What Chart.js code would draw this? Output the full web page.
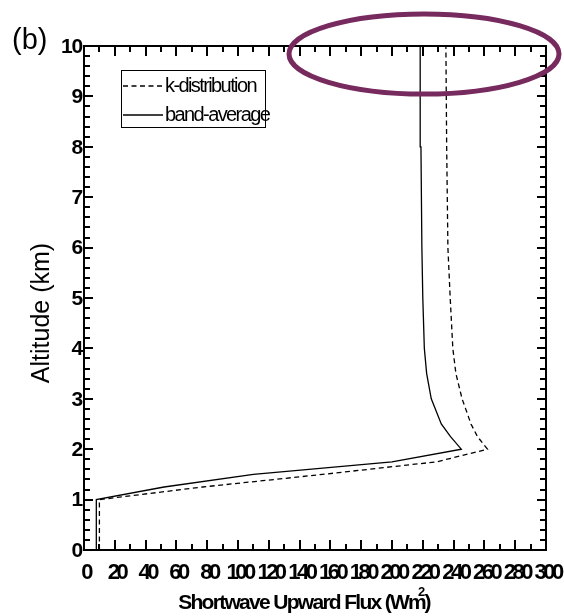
<!DOCTYPE html>
<html>
<head>
<meta charset="utf-8">
<script src="https://cdn.jsdelivr.net/npm/chart.js@4.4.1/dist/chart.umd.min.js"></script>
<style>
  html, body { margin: 0; padding: 0; background: #fff; }
  #wrap { width: 564px; height: 616px; }
</style>
</head>
<body>
<div id="wrap"><canvas id="chart" width="564" height="616"></canvas></div>
<script>
// altitude levels (km) and upward shortwave flux (W m-2)
const altitudeKm    = [0, 1, 1.25, 1.5, 1.75, 2, 2.25, 2.5, 3, 3.5, 4, 5, 6, 8, 10];
const kDistribution = [10, 10, 77, 155, 229, 262, 255.5, 251.3, 245.5, 241.5, 239.5, 237.8, 236.3, 235.5, 235];
const bandAverage   = [8, 8, 52, 110, 200, 245, 238, 232, 225.5, 222.5, 221, 220, 219.4, 218.8, 218.3];
const seriesNames   = ['k-distribution', 'band-average'];
const xTickLabels   = [0, 20, 40, 60, 80, 100, 120, 140, 160, 180, 200, 220, 240, 260, 280, 300];
const yTickLabels   = [0, 1, 2, 3, 4, 5, 6, 7, 8, 9, 10];

const FONT = '"Liberation Sans", Arial, sans-serif';

function toPoints(xs){
    return xs.map((v, i) => ({x: v, y: altitudeKm[i]}));
}

const decorations = {
    id: 'decorations',
    afterDraw(chart){
        const ctx = chart.ctx, a = chart.chartArea;
        const x = chart.scales.x, y = chart.scales.y;
        ctx.save();
        ctx.setLineDash([]);
        ctx.strokeStyle = '#000';
        ctx.fillStyle = '#000';

        // frame
        ctx.lineWidth = 2;
        ctx.strokeRect(a.left, a.top, a.right - a.left, a.bottom - a.top);

        // inward ticks on all four sides
        for(let i = 0; i <= 30; i++){
            const px = Math.round(x.getPixelForValue(i*10));
            const len = i % 2 === 0 ? 10 : 6;
            ctx.fillRect(px - 1, a.bottom - len, 2, len);
            ctx.fillRect(px - 1, a.top, 2, len);
        }
        for(let i = 0; i <= 50; i++){
            const py = Math.round(y.getPixelForValue(i/5));
            const len = i % 5 === 0 ? 9 : 6;
            ctx.fillRect(a.left, py - 1, len, 2);
            ctx.fillRect(a.right - len, py - 1, len, 2);
        }

        // x tick labels
        ctx.font = 'bold 22px ' + FONT;
        ctx.letterSpacing = '-3.5px';
        ctx.textAlign = 'center';
        ctx.textBaseline = 'middle';
        xTickLabels.forEach(v => {
            ctx.fillText(String(v), x.getPixelForValue(v) + 1.7, a.bottom + 23);
        });

        // y tick labels
        ctx.font = 'bold 21px ' + FONT;
        ctx.letterSpacing = '-1.2px';
        ctx.textAlign = 'right';
        yTickLabels.forEach(v => {
            ctx.fillText(String(v), a.left - 2, y.getPixelForValue(v) + 1);
        });

        // y title
        ctx.save();
        ctx.translate(42, (a.top + a.bottom)/2 + 15);
        ctx.rotate(-Math.PI/2);
        ctx.font = '25px ' + FONT;
        ctx.letterSpacing = '0px';
        ctx.textAlign = 'center';
        ctx.fillText('Altitude (km)', 0, 0);
        ctx.restore();

        // x title with superscript
        ctx.font = 'bold 21px ' + FONT;
        ctx.letterSpacing = '-1.7px';
        ctx.textAlign = 'left';
        const t1 = 'Shortwave Upward Flux (Wm', t3 = ')';
        const w1 = ctx.measureText(t1).width, w3 = ctx.measureText(t3).width;
        ctx.font = 'bold 13px ' + FONT;
        const w2 = ctx.measureText('2').width;
        let sx = 305 - (w1 + w2 + w3)/2 + 2;
        ctx.font = 'bold 21px ' + FONT;
        ctx.fillText(t1, sx, 603);
        ctx.font = 'bold 13px ' + FONT;
        ctx.letterSpacing = '0px';
        ctx.fillText('2', sx + w1 - 7, 592);
        ctx.font = 'bold 21px ' + FONT;
        ctx.fillText(t3, sx + w1 + w2 - 6, 603);

        // panel letter
        ctx.font = '29px ' + FONT;
        ctx.letterSpacing = '0px';
        ctx.textAlign = 'left';
        ctx.textBaseline = 'alphabetic';
        ctx.fillText('(b)', 12, 49);

        // legend box
        ctx.lineWidth = 1;
        ctx.strokeRect(121.5, 70.5, 144, 57);
        const ds = chart.data.datasets;
        [86, 115].forEach((ly, i) => {
            ctx.beginPath();
            ctx.lineWidth = 1.3;
            ctx.setLineDash(ds[i].borderDash || []);
            ctx.moveTo(123, ly); ctx.lineTo(163, ly);
            ctx.stroke();
            ctx.setLineDash([]);
            ctx.font = '20px ' + FONT;
            ctx.letterSpacing = '-1.6px';
            ctx.textBaseline = 'middle';
            ctx.fillText(ds[i].label, 165, ly);
        });

        // highlight ellipse
        ctx.beginPath();
        ctx.strokeStyle = '#772a5e';
        ctx.lineWidth = 5;
        ctx.ellipse(424, 54, 135, 40, 0, 0, Math.PI*2);
        ctx.stroke();

        ctx.restore();
    }
};

const ctx = document.getElementById('chart').getContext('2d');
const myChart = new Chart(ctx, {
    type: 'scatter',
    data: {
        datasets: [{
            label: seriesNames[0],
            data: toPoints(kDistribution),
            showLine: true,
            borderColor: '#000',
            borderWidth: 1.3,
            borderDash: [5, 3.5],
            pointRadius: 0,
            fill: false
        }, {
            label: seriesNames[1],
            data: toPoints(bandAverage),
            showLine: true,
            borderColor: '#000',
            borderWidth: 1.3,
            pointRadius: 0,
            fill: false
        }]
    },
    options: {
        responsive: false,
        animation: false,
        layout: { padding: { left: 76, right: 18, top: 46, bottom: 58 } },
        plugins: { legend: { display: false }, tooltip: { enabled: false } },
        scales: {
            x: {
                type: 'linear', min: 0, max: 300,
                ticks: { display: false, stepSize: 20 },
                grid: { display: false },
                border: { display: false }
            },
            y: {
                type: 'linear', min: 0, max: 10,
                ticks: { display: false, stepSize: 1 },
                grid: { display: false },
                border: { display: false }
            }
        }
    },
    plugins: [decorations]
});
</script>
</body>
</html>
